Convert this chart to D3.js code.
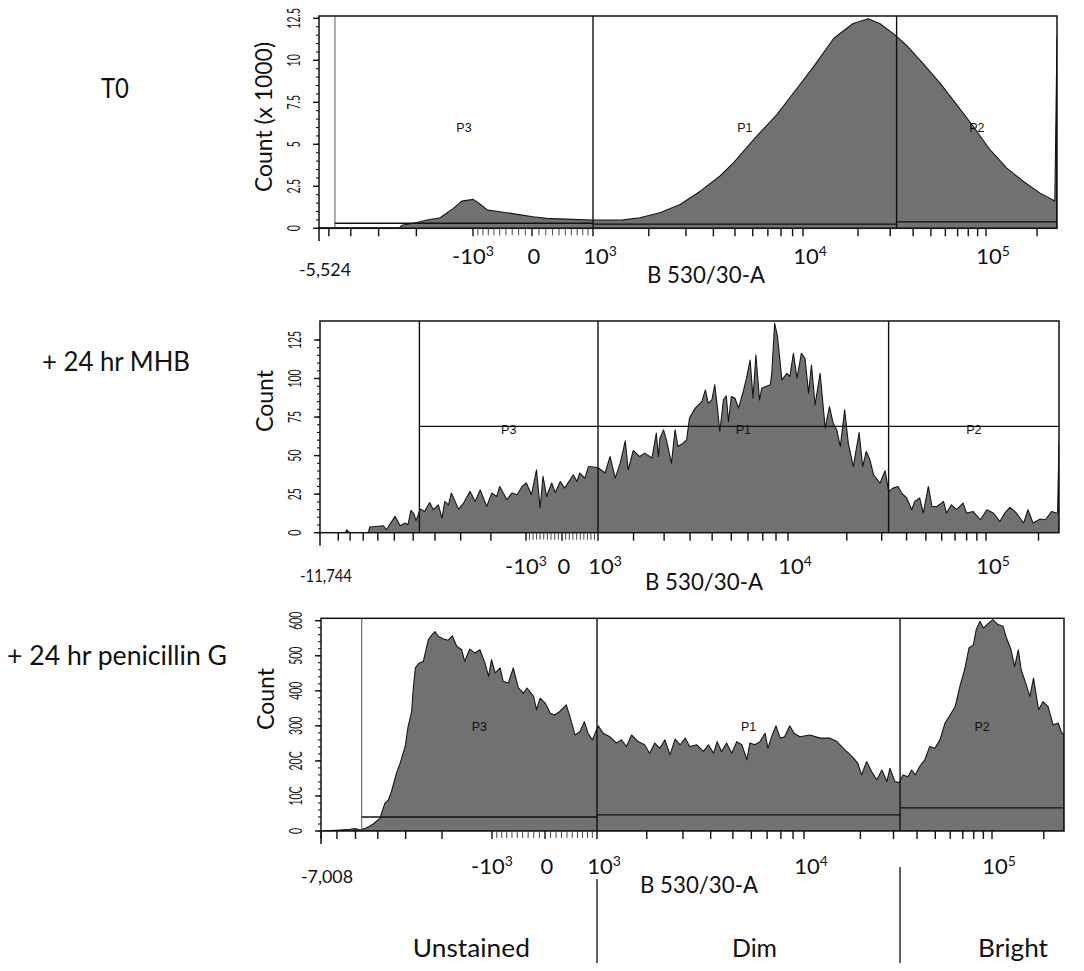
<!DOCTYPE html>
<html><head><meta charset="utf-8">
<script src="https://cdn.jsdelivr.net/npm/d3@7"></script>
<style>
body{margin:0;background:#fff;}
svg{display:block;font-family:Lato,"DejaVu Sans",sans-serif;}
</style></head><body>
<svg id="chart" width="1084" height="971"></svg>
<script>
// ---------------- DATA ----------------
const fluorMax = 262144;
const t0AxisMin = -5524, mhbAxisMin = -11744, penAxisMin = -7008;
const gateP3Left = -4700, gateP1Left = 1000, gateP2Left = 32500;

// histogram channels (0-1024 display channels) and counts
const t0Channel = [0,112,115,136,150,168,178,186,198,214,221,234,251,275,297,316,352,380,422,445,473,501,529,556,575,607,635,658,686,714,741,762,778,797,815,838,862,885,908,931,954,977,1000,1021,1024];
const t0Count = [0.03,0.05,0.18,0.34,0.49,0.63,0.93,1.17,1.62,1.72,1.52,1.08,0.99,0.83,0.69,0.59,0.53,0.49,0.50,0.63,0.93,1.42,2.21,3.10,3.89,5.47,6.75,8.04,9.61,11.30,12.19,12.48,12.19,11.59,10.90,9.82,8.63,7.35,6.06,4.68,3.60,2.80,2.11,1.62,11.4]; // x1000

const mhbChannel = [0,35,37,41,67,69,88,92,104,111,118,122,126,130,133,139,145,152,157,164,169,173,178,182,192,199,208,215,222,231,238,245,249,259,266,273,280,286,293,300,305,309,314,321,326,333,339,351,356,360,367,372,385,395,402,409,416,423,427,434,443,450,460,466,469,471,476,480,487,492,496,503,508,512,520,529,534,538,543,547,551,554,559,563,566,570,575,580,587,591,596,600,604,609,612,624,626,630,634,640,647,651,656,661,667,672,677,681,686,693,700,706,711,716,721,727,732,739,747,752,757,762,767,776,783,788,794,801,806,813,820,824,831,836,843,848,855,864,868,875,882,891,896,905,915,924,933,942,949,956,965,975,981,988,998,1005,1014,1020,1022,1024];
const mhbCount = [0,0,1.9,0,0,3.7,4.5,1.9,10.6,4.5,6.3,5.2,14.5,12.3,7.8,15.3,13.8,19.6,14.9,18.1,9.5,20.3,18.1,25.7,15.3,19.2,26.8,20.3,27.8,17.0,25.7,23.5,30.0,21.4,25.7,24.6,30.0,32.2,24.6,40.8,16.0,36.5,23.5,32.2,26.1,33.2,28.9,37.6,33.2,38.7,35.4,42.9,42.3,38.7,49.4,35.4,45.1,59.6,40.8,53.3,49.4,51.6,48.4,64.6,49.4,61.3,66.7,60.2,45.1,66.7,55.9,58.1,60.2,74.3,80.8,85.0,92.6,84.0,86.1,95.9,79.7,65.6,86.1,88.7,72.1,88.3,87.2,80.8,92.6,100.2,112.0,87.2,115.3,86.1,93.7,95.9,103.4,135.8,127.1,99.1,103.4,101.2,116.4,100.2,116.4,113.1,90.5,108.8,82.9,103.4,67.8,81.8,71.0,66.7,55.9,79.7,58.1,42.9,65.0,42.9,52.7,47.3,37.6,32.2,40.2,26.8,28.9,30.0,25.7,22.5,14.9,20.3,22.5,12.8,30.0,17.0,17.0,20.3,12.8,18.1,14.9,19.2,12.8,13.8,8.4,14.9,12.8,7.3,12.8,16.4,12.8,6.3,14.9,6.3,8.9,8.4,13.8,12.8,12.8,58];

const penChannel = [0,26,40,47,54,63,72,81,88,93,97,104,109,116,120,125,127,130,134,141,148,153,157,162,169,175,181,187,194,198,205,212,219,226,231,235,240,247,251,258,265,272,279,284,293,297,302,309,316,322,329,338,343,350,357,363,368,374,382,389,398,407,414,421,428,437,446,453,460,467,474,481,488,495,502,508,518,527,534,541,546,552,559,566,573,580,587,591,598,605,612,616,621,627,633,639,646,652,660,674,688,701,711,720,727,734,740,745,752,759,766,773,780,784,791,797,802,809,814,819,825,832,839,846,853,860,867,874,881,887,893,899,903,908,913,920,926,933,940,944,951,956,961,965,972,977,982,989,995,1002,1009,1016,1021,1024];
const penCount = [0,2.9,4.8,6.7,2.9,9.5,20,36,79,89,112,165,193,241,298,341,403,465,477,484,546,560,569,555,548,544,557,527,517,484,519,508,517,479,441,489,451,465,427,422,465,408,393,408,384,346,379,365,336,331,341,360,327,274,284,312,279,260,300,279,269,251,260,241,274,255,246,222,251,236,260,217,262,246,265,241,246,227,246,222,255,227,251,222,255,246,203,251,246,255,279,236,269,300,265,269,300,279,269,274,265,265,255,236,222,208,193,160,198,169,146,174,141,179,141,138,160,155,174,160,184,203,241,236,260,308,331,355,417,460,522,531,574,598,579,593,603,589,584,555,517,469,517,460,417,384,436,346,369,355,303,308,279,279];

// gate count levels [P3, P1, P2]
const t0GateLevels = [0.30, 0.25, 0.38];
const mhbGateLevels = [69, 69, 69];
const penGateLevels = [40, 46, 66];

// y-axis ticks
const t0YTicks = [0, 2.5, 5, 7.5, 10, 12.5];
const t0YTickLabels = ["0", "2.5", "5", "7.5", "10", "12.5"];
const mhbYTicks = [0, 25, 50, 75, 100, 125];
const mhbYTickLabels = ["0", "25", "50", "75", "100", "125"];
const penYTicks = [0, 100, 200, 300, 400, 500, 600];
const penYTickLabels = ["0", "10C", "20C", "300", "400", "500", "600"];

// x-axis labelled ticks
const xLabelValues = [-1000, 0, 1000, 10000, 100000];
const xLabelBase = ["-10", "0", "10", "10", "10"];
const xLabelSup = ["3", "", "3", "4", "5"];

const rowTitles = ["T0", "+ 24 hr MHB", "+ 24 hr penicillin G"];
const gateNames = ["P3", "P1", "P2"];
const populationNames = ["Unstained", "Dim", "Bright"];

// ---------------- LAYOUT ----------------
const panels = [
  { title: rowTitles[0], titleX: 115, titleBase: 98, titleLen: 28,
    left: 319, right: 1057, top: 16, zero: 228.3, yMax: 12.64,
    yTicks: t0YTicks, yLabels: t0YTickLabels, yMinorStep: 0.5,
    yTitle: "Count (x 1000)", yTitleCY: 117, yTitleLen: 150,
    ch: t0Channel, cnt: t0Count, gates: t0GateLevels, labelLevel: 6.0,
    axisMin: t0AxisMin, linW: 1000, anchorPx: [319, 473, 532, 593, 803, 986, 1057],
    lblOff: 36, edgeOff: 48, titleOff: 55, xTitleX: 647, thinP3: true },
  { title: rowTitles[1], titleX: 116, titleBase: 371, titleLen: 148,
    left: 320, right: 1059, top: 321, zero: 532.7, yMax: 137.3,
    yTicks: mhbYTicks, yLabels: mhbYTickLabels, yMinorStep: 5,
    yTitle: "Count", yTitleCY: 401, yTitleLen: 62,
    ch: mhbChannel, cnt: mhbCount, gates: mhbGateLevels, labelLevel: 67,
    axisMin: mhbAxisMin, linW: 3000, anchorPx: [320, 526, 562, 598, 788, 986, 1059],
    lblOff: 41, edgeOff: 49, titleOff: 57, xTitleX: 645, thinP3: false },
  { title: rowTitles[2], titleX: 117, titleBase: 665, titleLen: 220,
    left: 321, right: 1064, top: 618.3, zero: 831, yMax: 606.8,
    yTicks: penYTicks, yLabels: penYTickLabels, yMinorStep: 20,
    yTitle: "Count", yTitleCY: 699, yTitleLen: 62,
    ch: penChannel, cnt: penCount, gates: penGateLevels, labelLevel: 297,
    axisMin: penAxisMin, linW: 1500, anchorPx: [321, 492, 545, 597, 804, 992, 1064],
    lblOff: 43, edgeOff: 52, titleOff: 62, xTitleX: 640, thinP3: true }
];

const svg = d3.select("#chart");

function fmtEdge(v){ return d3.format(",")(v).replace("\u2212", "-"); }

panels.forEach((p, pi) => {
  const g = svg.append("g");
  const cx = d3.scaleLinear().domain([0, 1024]).range([p.left, p.right]);
  const y = d3.scaleLinear().domain([0, p.yMax]).range([p.zero, p.top]);
  const T = v => Math.asinh(v / p.linW);
  const anchorVals = [p.axisMin, -1000, 0, 1000, 10000, 100000, fluorMax];
  const tScale = d3.scaleLinear().domain(anchorVals.map(T)).range(p.anchorPx);
  const fx = v => tScale(T(v));
  p.fx = fx;

  // row title
  g.append("text").attr("x", p.titleX).attr("y", p.titleBase)
    .attr("text-anchor", "middle").attr("font-size", 26)
    .attr("textLength", p.titleLen).attr("lengthAdjust", "spacingAndGlyphs")
    .attr("fill", "#111").text(p.title);

  // histogram
  const pts = p.ch.map((c, i) => [c, p.cnt[i]]);
  const area = d3.area().x(d => cx(d[0])).y0(y(0)).y1(d => y(d[1]));
  const clipId = "clip" + pi;
  svg.append("clipPath").attr("id", clipId).append("rect")
    .attr("x", p.left).attr("y", p.top).attr("width", p.right - p.left).attr("height", p.zero - p.top);
  g.append("path").datum(pts).attr("d", area).attr("clip-path", `url(#${clipId})`)
    .attr("fill", "#717171").attr("stroke", "#161616").attr("stroke-width", 1.1)
    .attr("stroke-linejoin", "round");

  // gates
  const edges = [gateP3Left, gateP1Left, gateP2Left, fluorMax];
  edges.slice(0, 3).forEach((e, i) => {
    const thin = (i === 0 && p.thinP3);
    g.append("line").attr("x1", fx(e)).attr("x2", fx(e)).attr("y1", p.top).attr("y2", p.zero)
      .attr("stroke", thin ? "#555" : "#111").attr("stroke-width", thin ? 1 : 1.4);
  });
  p.gates.forEach((lv, i) => {
    g.append("line").attr("x1", fx(edges[i])).attr("x2", fx(edges[i + 1]))
      .attr("y1", y(lv)).attr("y2", y(lv)).attr("stroke", "#111").attr("stroke-width", 1.3);
    g.append("text").attr("x", (fx(edges[i]) + fx(edges[i + 1])) / 2).attr("y", y(p.labelLevel) + 4.5)
      .attr("text-anchor", "middle").attr("font-family", "'Liberation Sans',Arial,sans-serif")
      .attr("font-size", 12.5).attr("fill", "#111").text(gateNames[i]);
  });

  // frame
  g.append("rect").attr("x", p.left).attr("y", p.top).attr("width", p.right - p.left)
    .attr("height", p.zero - p.top).attr("fill", "none").attr("stroke", "#111").attr("stroke-width", 1.5);

  // y ticks
  const minor = d3.range(0, p.yTicks[p.yTicks.length - 1] + 1e-9, p.yMinorStep);
  g.selectAll(null).data(minor).join("line")
    .attr("x1", p.left - 3).attr("x2", p.left).attr("y1", d => y(d)).attr("y2", d => y(d))
    .attr("stroke", "#111").attr("stroke-width", 1.1);
  g.selectAll(null).data(p.yTicks).join("line")
    .attr("x1", p.left - 6).attr("x2", p.left).attr("y1", d => y(d)).attr("y2", d => y(d))
    .attr("stroke", "#111").attr("stroke-width", 1.4);
  g.selectAll(null).data(p.yTicks).join("text")
    .attr("transform", d => `translate(${p.left - 19},${y(d)}) rotate(-90) scale(0.58,1)`)
    .attr("text-anchor", "middle").attr("font-size", 18).attr("fill", "#111")
    .text((d, i) => p.yLabels[i]);
  g.append("text")
    .attr("transform", `translate(${p.left - 47},${p.yTitleCY}) rotate(-90)`)
    .attr("text-anchor", "middle").attr("font-size", 23)
    .attr("textLength", p.yTitleLen).attr("lengthAdjust", "spacingAndGlyphs")
    .attr("fill", "#111").text(p.yTitle);

  // x ticks
  const linTicks = d3.range(-900, 901, 100).filter(v => v !== 0);
  const logTicks = [];
  [1000, 10000, 100000].forEach(dec => {
    d3.range(2, 10).forEach(m => { logTicks.push(m * dec); });
  });
  logTicks.push(-10000);
  d3.range(2, 10).forEach(m => logTicks.push(-m * 1000));
  const inRange = v => v > p.axisMin && v < fluorMax;
  g.selectAll(null).data(linTicks).join("line")
    .attr("x1", d => fx(d)).attr("x2", d => fx(d)).attr("y1", p.zero).attr("y2", p.zero + 7)
    .attr("stroke", "#333").attr("stroke-width", 0.9);
  g.selectAll(null).data(logTicks.filter(inRange).concat(xLabelValues)).join("line")
    .attr("x1", d => fx(d)).attr("x2", d => fx(d)).attr("y1", p.zero).attr("y2", p.zero + 8)
    .attr("stroke", "#111").attr("stroke-width", 1.4);
  g.append("line").attr("x1", fx(p.axisMin)).attr("x2", fx(p.axisMin))
    .attr("y1", p.zero).attr("y2", p.zero + 13).attr("stroke", "#111").attr("stroke-width", 1.5);

  // x tick labels
  xLabelValues.forEach((v, i) => {
    const off = v > 0 ? 7 : (v === 0 ? 2 : 0);
    const t = g.append("text").attr("x", fx(v) + off).attr("y", p.zero + p.lblOff)
      .attr("text-anchor", "middle").attr("font-size", 22).attr("fill", "#111");
    t.append("tspan").text(xLabelBase[i]);
    if (xLabelSup[i]) t.append("tspan").attr("font-size", 14).attr("dy", -8).text(xLabelSup[i]);
  });
  g.append("text").attr("x", fx(p.axisMin) + 6).attr("y", p.zero + p.edgeOff)
    .attr("text-anchor", "middle").attr("font-size", 18)
    .attr("textLength", 52).attr("lengthAdjust", "spacingAndGlyphs")
    .attr("fill", "#111").text(fmtEdge(p.axisMin));
  g.append("text").attr("x", p.xTitleX).attr("y", p.zero + p.titleOff)
    .attr("font-size", 24).attr("textLength", 118).attr("lengthAdjust", "spacingAndGlyphs")
    .attr("fill", "#111").text("B 530/30-A");
});

// population annotations under bottom panel
const pb = panels[2];
const divX = [pb.fx(gateP1Left), pb.fx(gateP2Left)];
svg.append("line").attr("x1", divX[0]).attr("x2", divX[0]).attr("y1", 879).attr("y2", 963)
  .attr("stroke", "#111").attr("stroke-width", 1.3);
svg.append("line").attr("x1", divX[1]).attr("x2", divX[1]).attr("y1", 867).attr("y2", 963)
  .attr("stroke", "#111").attr("stroke-width", 1.3);
const popCenters = [(pb.fx(gateP3Left) + divX[0]) / 2 - 8, (divX[0] + divX[1]) / 2 + 6, (divX[1] + pb.right) / 2 + 31];
const popLens = [117, 45, 70];
populationNames.forEach((n, i) => {
  svg.append("text").attr("x", popCenters[i]).attr("y", 957).attr("text-anchor", "middle")
    .attr("font-size", 25).attr("textLength", popLens[i]).attr("lengthAdjust", "spacingAndGlyphs")
    .attr("fill", "#111").text(n);
});
</script>
</body></html>
